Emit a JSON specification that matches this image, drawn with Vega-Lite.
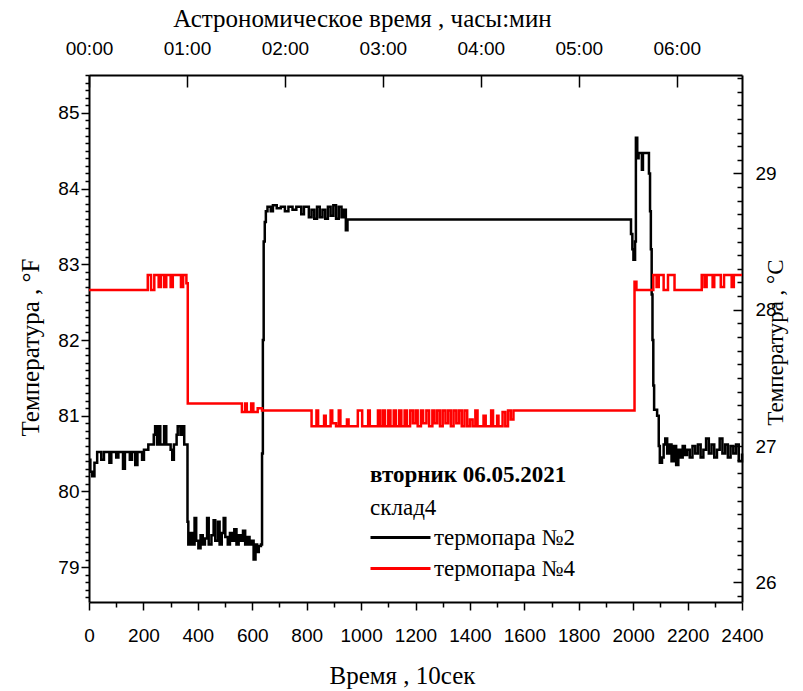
{
  "$schema": "https://vega.github.io/schema/vega-lite/v6.json",
  "width": 653,
  "height": 527,
  "autosize": {"type": "none"},
  "padding": {"left": 89, "top": 75, "right": 61, "bottom": 89},
  "background": "#ffffff",
  "config": {
    "view": {"stroke": null},
    "axis": {
      "grid": false,
      "domainColor": "#000000",
      "domainWidth": 2,
      "tickColor": "#000000",
      "tickWidth": 1.5,
      "labelColor": "#000000",
      "titleColor": "#000000",
      "labelFont": "Liberation Sans",
      "labelFontSize": 19,
      "labelOverlap": false,
      "labelBound": false,
      "titleFont": "Liberation Serif",
      "titleFontSize": 25,
      "titleFontWeight": "normal"
    }
  },
  "datasets": {
    "temps": [
      {"t":0,"F":80.42,"s":"термопара №2"},{"t":5,"F":80.26,"s":"термопара №2"},{"t":12,"F":80.2,"s":"термопара №2"},{"t":20,"F":80.38,"s":"термопара №2"},{"t":30,"F":80.52,"s":"термопара №2"},{"t":45,"F":80.42,"s":"термопара №2"},{"t":55,"F":80.52,"s":"термопара №2"},{"t":75,"F":80.38,"s":"термопара №2"},{"t":82,"F":80.52,"s":"термопара №2"},{"t":100,"F":80.45,"s":"термопара №2"},{"t":108,"F":80.52,"s":"термопара №2"},{"t":125,"F":80.3,"s":"термопара №2"},{"t":132,"F":80.52,"s":"термопара №2"},{"t":150,"F":80.42,"s":"термопара №2"},{"t":158,"F":80.52,"s":"термопара №2"},{"t":170,"F":80.35,"s":"термопара №2"},{"t":178,"F":80.52,"s":"термопара №2"},{"t":195,"F":80.42,"s":"термопара №2"},{"t":202,"F":80.55,"s":"термопара №2"},{"t":218,"F":80.62,"s":"термопара №2"},{"t":238,"F":80.75,"s":"термопара №2"},{"t":243,"F":80.86,"s":"термопара №2"},{"t":250,"F":80.62,"s":"термопара №2"},{"t":256,"F":80.86,"s":"термопара №2"},{"t":262,"F":80.62,"s":"термопара №2"},{"t":276,"F":80.86,"s":"термопара №2"},{"t":284,"F":80.62,"s":"термопара №2"},{"t":300,"F":80.55,"s":"термопара №2"},{"t":306,"F":80.42,"s":"термопара №2"},{"t":312,"F":80.62,"s":"термопара №2"},{"t":322,"F":80.75,"s":"термопара №2"},{"t":326,"F":80.86,"s":"термопара №2"},{"t":336,"F":80.75,"s":"термопара №2"},{"t":342,"F":80.86,"s":"термопара №2"},{"t":350,"F":80.62,"s":"термопара №2"},{"t":362,"F":79.6,"s":"термопара №2"},{"t":365,"F":79.3,"s":"термопара №2"},{"t":372,"F":79.45,"s":"термопара №2"},{"t":380,"F":79.3,"s":"термопара №2"},{"t":388,"F":79.65,"s":"термопара №2"},{"t":394,"F":79.35,"s":"термопара №2"},{"t":402,"F":79.25,"s":"термопара №2"},{"t":410,"F":79.42,"s":"термопара №2"},{"t":418,"F":79.3,"s":"термопара №2"},{"t":426,"F":79.38,"s":"термопара №2"},{"t":434,"F":79.65,"s":"термопара №2"},{"t":440,"F":79.3,"s":"термопара №2"},{"t":450,"F":79.42,"s":"термопара №2"},{"t":458,"F":79.62,"s":"термопара №2"},{"t":464,"F":79.35,"s":"термопара №2"},{"t":474,"F":79.6,"s":"термопара №2"},{"t":480,"F":79.3,"s":"термопара №2"},{"t":488,"F":79.45,"s":"термопара №2"},{"t":495,"F":79.65,"s":"термопара №2"},{"t":501,"F":79.4,"s":"термопара №2"},{"t":510,"F":79.3,"s":"термопара №2"},{"t":518,"F":79.45,"s":"термопара №2"},{"t":526,"F":79.35,"s":"термопара №2"},{"t":534,"F":79.5,"s":"термопара №2"},{"t":542,"F":79.3,"s":"термопара №2"},{"t":550,"F":79.42,"s":"термопара №2"},{"t":558,"F":79.35,"s":"термопара №2"},{"t":566,"F":79.48,"s":"термопара №2"},{"t":574,"F":79.3,"s":"термопара №2"},{"t":582,"F":79.4,"s":"термопара №2"},{"t":590,"F":79.3,"s":"термопара №2"},{"t":598,"F":79.35,"s":"термопара №2"},{"t":605,"F":79.1,"s":"термопара №2"},{"t":612,"F":79.3,"s":"термопара №2"},{"t":618,"F":79.2,"s":"термопара №2"},{"t":624,"F":79.28,"s":"термопара №2"},{"t":632,"F":79.3,"s":"термопара №2"},{"t":636,"F":80.5,"s":"термопара №2"},{"t":639,"F":82.0,"s":"термопара №2"},{"t":642,"F":83.3,"s":"термопара №2"},{"t":646,"F":83.56,"s":"термопара №2"},{"t":650,"F":83.7,"s":"термопара №2"},{"t":656,"F":83.76,"s":"термопара №2"},{"t":668,"F":83.7,"s":"термопара №2"},{"t":676,"F":83.78,"s":"термопара №2"},{"t":690,"F":83.74,"s":"термопара №2"},{"t":705,"F":83.76,"s":"термопара №2"},{"t":720,"F":83.7,"s":"термопара №2"},{"t":733,"F":83.76,"s":"термопара №2"},{"t":748,"F":83.72,"s":"термопара №2"},{"t":762,"F":83.76,"s":"термопара №2"},{"t":780,"F":83.66,"s":"термопара №2"},{"t":790,"F":83.76,"s":"термопара №2"},{"t":808,"F":83.62,"s":"термопара №2"},{"t":818,"F":83.72,"s":"термопара №2"},{"t":828,"F":83.6,"s":"термопара №2"},{"t":838,"F":83.76,"s":"термопара №2"},{"t":848,"F":83.62,"s":"термопара №2"},{"t":858,"F":83.72,"s":"термопара №2"},{"t":868,"F":83.6,"s":"термопара №2"},{"t":878,"F":83.76,"s":"термопара №2"},{"t":888,"F":83.64,"s":"термопара №2"},{"t":898,"F":83.78,"s":"термопара №2"},{"t":908,"F":83.6,"s":"термопара №2"},{"t":918,"F":83.76,"s":"термопара №2"},{"t":928,"F":83.62,"s":"термопара №2"},{"t":936,"F":83.72,"s":"термопара №2"},{"t":944,"F":83.45,"s":"термопара №2"},{"t":950,"F":83.59,"s":"термопара №2"},{"t":1992,"F":83.4,"s":"термопара №2"},{"t":1997,"F":83.2,"s":"термопара №2"},{"t":2001,"F":83.06,"s":"термопара №2"},{"t":2007,"F":83.3,"s":"термопара №2"},{"t":2010,"F":84.67,"s":"термопара №2"},{"t":2015,"F":84.4,"s":"термопара №2"},{"t":2020,"F":84.47,"s":"термопара №2"},{"t":2032,"F":84.25,"s":"термопара №2"},{"t":2036,"F":84.47,"s":"термопара №2"},{"t":2058,"F":84.2,"s":"термопара №2"},{"t":2062,"F":83.7,"s":"термопара №2"},{"t":2065,"F":83.2,"s":"термопара №2"},{"t":2068,"F":82.6,"s":"термопара №2"},{"t":2071,"F":82.0,"s":"термопара №2"},{"t":2074,"F":81.4,"s":"термопара №2"},{"t":2077,"F":81.08,"s":"термопара №2"},{"t":2088,"F":81.0,"s":"термопара №2"},{"t":2094,"F":80.6,"s":"термопара №2"},{"t":2098,"F":80.38,"s":"термопара №2"},{"t":2106,"F":80.45,"s":"термопара №2"},{"t":2112,"F":80.62,"s":"термопара №2"},{"t":2118,"F":80.7,"s":"термопара №2"},{"t":2125,"F":80.5,"s":"термопара №2"},{"t":2133,"F":80.62,"s":"термопара №2"},{"t":2141,"F":80.4,"s":"термопара №2"},{"t":2150,"F":80.6,"s":"термопара №2"},{"t":2158,"F":80.35,"s":"термопара №2"},{"t":2166,"F":80.55,"s":"термопара №2"},{"t":2174,"F":80.45,"s":"термопара №2"},{"t":2182,"F":80.6,"s":"термопара №2"},{"t":2190,"F":80.48,"s":"термопара №2"},{"t":2198,"F":80.55,"s":"термопара №2"},{"t":2208,"F":80.45,"s":"термопара №2"},{"t":2218,"F":80.6,"s":"термопара №2"},{"t":2228,"F":80.5,"s":"термопара №2"},{"t":2238,"F":80.62,"s":"термопара №2"},{"t":2248,"F":80.45,"s":"термопара №2"},{"t":2258,"F":80.55,"s":"термопара №2"},{"t":2268,"F":80.7,"s":"термопара №2"},{"t":2278,"F":80.5,"s":"термопара №2"},{"t":2288,"F":80.62,"s":"термопара №2"},{"t":2298,"F":80.45,"s":"термопара №2"},{"t":2308,"F":80.55,"s":"термопара №2"},{"t":2318,"F":80.7,"s":"термопара №2"},{"t":2328,"F":80.5,"s":"термопара №2"},{"t":2338,"F":80.62,"s":"термопара №2"},{"t":2348,"F":80.45,"s":"термопара №2"},{"t":2358,"F":80.6,"s":"термопара №2"},{"t":2368,"F":80.5,"s":"термопара №2"},{"t":2378,"F":80.62,"s":"термопара №2"},{"t":2388,"F":80.4,"s":"термопара №2"},{"t":2400,"F":80.5,"s":"термопара №2"},
      {"t":0,"F":82.66,"s":"термопара №4"},{"t":216,"F":82.86,"s":"термопара №4"},{"t":228,"F":82.66,"s":"термопара №4"},{"t":240,"F":82.86,"s":"термопара №4"},{"t":256,"F":82.7,"s":"термопара №4"},{"t":264,"F":82.86,"s":"термопара №4"},{"t":276,"F":82.7,"s":"термопара №4"},{"t":284,"F":82.86,"s":"термопара №4"},{"t":300,"F":82.7,"s":"термопара №4"},{"t":308,"F":82.86,"s":"термопара №4"},{"t":338,"F":82.7,"s":"термопара №4"},{"t":346,"F":82.86,"s":"термопара №4"},{"t":358,"F":82.75,"s":"термопара №4"},{"t":363,"F":81.16,"s":"термопара №4"},{"t":562,"F":81.05,"s":"термопара №4"},{"t":574,"F":81.16,"s":"термопара №4"},{"t":580,"F":81.05,"s":"термопара №4"},{"t":596,"F":81.16,"s":"термопара №4"},{"t":604,"F":81.05,"s":"термопара №4"},{"t":620,"F":81.1,"s":"термопара №4"},{"t":636,"F":81.07,"s":"термопара №4"},{"t":818,"F":80.86,"s":"термопара №4"},{"t":836,"F":81.07,"s":"термопара №4"},{"t":842,"F":80.86,"s":"термопара №4"},{"t":864,"F":81.0,"s":"термопара №4"},{"t":870,"F":80.86,"s":"термопара №4"},{"t":888,"F":81.07,"s":"термопара №4"},{"t":894,"F":80.9,"s":"термопара №4"},{"t":908,"F":80.86,"s":"термопара №4"},{"t":918,"F":81.07,"s":"термопара №4"},{"t":924,"F":80.86,"s":"термопара №4"},{"t":948,"F":80.95,"s":"термопара №4"},{"t":954,"F":80.86,"s":"термопара №4"},{"t":988,"F":81.07,"s":"термопара №4"},{"t":1004,"F":80.86,"s":"термопара №4"},{"t":1026,"F":81.07,"s":"термопара №4"},{"t":1032,"F":80.86,"s":"термопара №4"},{"t":1062,"F":81.07,"s":"термопара №4"},{"t":1070,"F":80.86,"s":"термопара №4"},{"t":1080,"F":81.07,"s":"термопара №4"},{"t":1088,"F":80.86,"s":"термопара №4"},{"t":1100,"F":81.07,"s":"термопара №4"},{"t":1108,"F":80.86,"s":"термопара №4"},{"t":1120,"F":81.07,"s":"термопара №4"},{"t":1128,"F":80.86,"s":"термопара №4"},{"t":1140,"F":81.07,"s":"термопара №4"},{"t":1148,"F":80.86,"s":"термопара №4"},{"t":1160,"F":81.07,"s":"термопара №4"},{"t":1168,"F":80.86,"s":"термопара №4"},{"t":1180,"F":81.07,"s":"термопара №4"},{"t":1190,"F":80.9,"s":"термопара №4"},{"t":1200,"F":81.07,"s":"термопара №4"},{"t":1208,"F":80.86,"s":"термопара №4"},{"t":1220,"F":81.07,"s":"термопара №4"},{"t":1228,"F":80.9,"s":"термопара №4"},{"t":1240,"F":81.07,"s":"термопара №4"},{"t":1250,"F":80.86,"s":"термопара №4"},{"t":1262,"F":81.07,"s":"термопара №4"},{"t":1270,"F":80.9,"s":"термопара №4"},{"t":1280,"F":81.07,"s":"термопара №4"},{"t":1290,"F":80.86,"s":"термопара №4"},{"t":1300,"F":81.07,"s":"термопара №4"},{"t":1310,"F":80.9,"s":"термопара №4"},{"t":1320,"F":81.07,"s":"термопара №4"},{"t":1330,"F":80.86,"s":"термопара №4"},{"t":1340,"F":81.07,"s":"термопара №4"},{"t":1350,"F":80.9,"s":"термопара №4"},{"t":1360,"F":81.07,"s":"термопара №4"},{"t":1370,"F":80.86,"s":"термопара №4"},{"t":1380,"F":81.07,"s":"термопара №4"},{"t":1390,"F":80.86,"s":"термопара №4"},{"t":1400,"F":80.95,"s":"термопара №4"},{"t":1410,"F":80.86,"s":"термопара №4"},{"t":1420,"F":81.07,"s":"термопара №4"},{"t":1428,"F":80.86,"s":"термопара №4"},{"t":1450,"F":81.0,"s":"термопара №4"},{"t":1458,"F":80.86,"s":"термопара №4"},{"t":1478,"F":81.07,"s":"термопара №4"},{"t":1485,"F":80.86,"s":"термопара №4"},{"t":1500,"F":81.0,"s":"термопара №4"},{"t":1505,"F":80.86,"s":"термопара №4"},{"t":1520,"F":81.05,"s":"термопара №4"},{"t":1530,"F":80.86,"s":"термопара №4"},{"t":1540,"F":81.07,"s":"термопара №4"},{"t":1550,"F":80.95,"s":"термопара №4"},{"t":1560,"F":81.07,"s":"термопара №4"},{"t":2005,"F":82.77,"s":"термопара №4"},{"t":2012,"F":82.66,"s":"термопара №4"},{"t":2074,"F":82.86,"s":"термопара №4"},{"t":2086,"F":82.7,"s":"термопара №4"},{"t":2094,"F":82.86,"s":"термопара №4"},{"t":2112,"F":82.66,"s":"термопара №4"},{"t":2128,"F":82.86,"s":"термопара №4"},{"t":2152,"F":82.66,"s":"термопара №4"},{"t":2252,"F":82.86,"s":"термопара №4"},{"t":2262,"F":82.7,"s":"термопара №4"},{"t":2270,"F":82.86,"s":"термопара №4"},{"t":2292,"F":82.7,"s":"термопара №4"},{"t":2298,"F":82.86,"s":"термопара №4"},{"t":2322,"F":82.7,"s":"термопара №4"},{"t":2334,"F":82.86,"s":"термопара №4"},{"t":2362,"F":82.7,"s":"термопара №4"},{"t":2370,"F":82.86,"s":"термопара №4"},{"t":2400,"F":82.86,"s":"термопара №4"}
    ],
    "notes": [
      {"t":1033,"F":80.22,"label":"вторник 06.05.2021","w":"bold"},
      {"t":1033,"F":79.78,"label":"склад4","w":"normal"}
    ]
  },
  "layer": [
    {
      "layer": [
        {
          "data": {"name": "temps"},
          "mark": {"type": "line", "interpolate": "step-after", "strokeWidth": 2.5},
          "encoding": {
            "x": {
              "field": "t", "type": "quantitative",
              "scale": {"domain": [0, 2400], "nice": false, "zero": false},
              "axis": {
                "orient": "bottom",
                "title": "Время , 10сек",
                "titleX": 313,
                "titleAlign": "center",
                "values": [0,100,200,300,400,500,600,700,800,900,1000,1100,1200,1300,1400,1500,1600,1700,1800,1900,2000,2100,2200,2300,2400],
                "tickCount": 1000,
                "labelExpr": "datum.value % 200 === 0 ? datum.value : ''",
                "tickSize": {"condition": {"test": "datum.value % 200 === 0", "value": 8}, "value": 5},
                "labelPadding": 16,
                "labelFlush": false,
                "labelOverlap": false,
                "titlePadding": 18
              }
            },
            "y": {
              "field": "F", "type": "quantitative",
              "scale": {"domain": [78.54, 85.5], "nice": false, "zero": false},
              "axis": {
                "orient": "left",
                "title": "Температура , °F",
                "titleY": 272,
                "values": [78.6,78.7,78.8,78.9,79,79.1,79.2,79.3,79.4,79.5,79.6,79.7,79.8,79.9,80,80.1,80.2,80.3,80.4,80.5,80.6,80.7,80.8,80.9,81,81.1,81.2,81.3,81.4,81.5,81.6,81.7,81.8,81.9,82,82.1,82.2,82.3,82.4,82.5,82.6,82.7,82.8,82.9,83,83.1,83.2,83.3,83.4,83.5,83.6,83.7,83.8,83.9,84,84.1,84.2,84.3,84.4,84.5,84.6,84.7,84.8,84.9,85,85.1,85.2,85.3,85.4,85.5],
                "tickCount": 1000,
                "labelExpr": "abs(datum.value - round(datum.value)) < 0.01 ? format(datum.value, 'd') : ''",
                "tickSize": {"condition": {"test": "abs(datum.value - round(datum.value)) < 0.01", "value": 8}, "value": 4},
                "labelPadding": 2,
                "labelOverlap": false,
                "labelFlush": false,
                "titlePadding": 14
              }
            },
            "color": {
              "field": "s", "type": "nominal",
              "scale": {"domain": ["термопара №2", "термопара №4"], "range": ["#000000", "#ff0000"]},
              "legend": {
                "title": null,
                "orient": "none",
                "legendX": 300,
                "legendY": 451,
                "padding": 0,
                "symbolType": "M-6,0H6",
                "symbolSize": 100,
                "symbolStrokeWidth": 3,
                "symbolFillColor": "transparent",
                "labelFont": "Liberation Serif",
                "labelFontSize": 23,
                "labelColor": "#000000",
                "labelOffset": 22,
                "rowPadding": 7
              }
            }
          }
        },
        {
          "data": {"name": "notes"},
          "transform": [{"filter": "datum.w === 'bold'"}],
          "mark": {"type": "text", "align": "left", "baseline": "middle", "font": "Liberation Serif", "fontSize": 23, "fontWeight": "bold", "color": "#000000"},
          "encoding": {
            "x": {"field": "t", "type": "quantitative"},
            "y": {"field": "F", "type": "quantitative"},
            "text": {"field": "label"}
          }
        },
        {
          "data": {"name": "notes"},
          "transform": [{"filter": "datum.w === 'normal'"}],
          "mark": {"type": "text", "align": "left", "baseline": "middle", "font": "Liberation Serif", "fontSize": 23, "color": "#000000"},
          "encoding": {
            "x": {"field": "t", "type": "quantitative"},
            "y": {"field": "F", "type": "quantitative"},
            "text": {"field": "label"}
          }
        }
      ]
    },
    {
      "data": {"values": [{"a": 0}]},
      "mark": {"type": "point", "opacity": 0},
      "encoding": {
        "x": {
          "datum": 0, "type": "quantitative",
          "scale": {"domain": [0, 2400], "nice": false, "zero": false},
          "axis": {
            "orient": "top",
            "title": "Астрономическое время , часы:мин",
            "titleX": 273,
            "titleAlign": "center",
            "values": [0, 360, 720, 1080, 1440, 1800, 2160],
            "tickCount": 1000,
            "labelExpr": "(floor(datum.value / 360) < 10 ? '0' : '') + floor(datum.value / 360) + ':00'",
            "tickSize": -12,
            "labelPadding": 29,
            "labelFlush": false,
            "labelOverlap": false,
            "titlePadding": 8
          }
        },
        "y": {
          "datum": 27, "type": "quantitative",
          "scale": {"domain": [25.856, 29.722], "nice": false, "zero": false},
          "axis": {
            "orient": "right",
            "title": "Температура , °C",
            "titleAngle": -90,
            "titleY": 267,
            "titleFontSize": 23,
            "values": [25.9,26,26.1,26.2,26.3,26.4,26.5,26.6,26.7,26.8,26.9,27,27.1,27.2,27.3,27.4,27.5,27.6,27.7,27.8,27.9,28,28.1,28.2,28.3,28.4,28.5,28.6,28.7,28.8,28.9,29,29.1,29.2,29.3,29.4,29.5,29.6,29.7],
            "tickCount": 1000,
            "labelExpr": "abs(datum.value - round(datum.value)) < 0.01 ? format(datum.value, 'd') : ''",
            "tickSize": {"condition": {"test": "abs(datum.value - round(datum.value)) < 0.01", "value": -9}, "value": -5},
            "labelPadding": 22,
            "labelOverlap": false,
            "labelFlush": false,
            "titlePadding": 11
          }
        }
      }
    }
  ],
  "resolve": {"scale": {"x": "independent", "y": "independent"}}
}
